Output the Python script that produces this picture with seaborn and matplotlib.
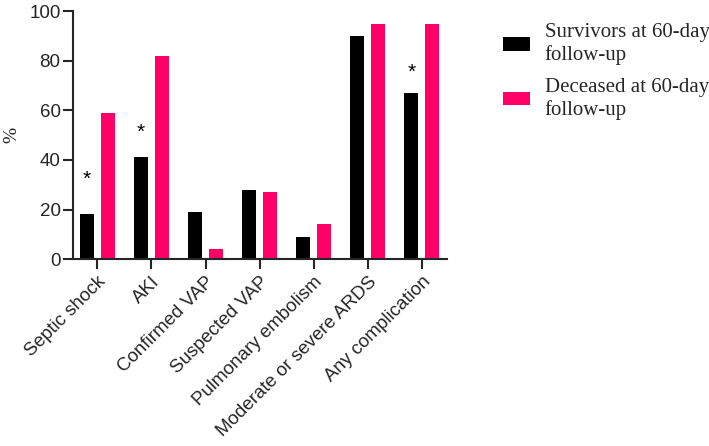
import matplotlib
matplotlib.use("Agg")
import matplotlib.pyplot as plt
import seaborn as sns
import pandas as pd

categories = ["Septic shock", "AKI", "Confirmed VAP", "Suspected VAP",
              "Pulmonary embolism", "Moderate or severe ARDS", "Any complication"]
survivors = [18, 41, 19, 28, 9, 90, 67]
deceased = [59, 82, 4, 27, 14, 95, 95]
series_names = ["Survivors at 60-day\nfollow-up", "Deceased at 60-day\nfollow-up"]
# significance markers (height of asterisk above survivor bars), None = no marker
asterisk_y = [32, 51, None, None, None, None, 75.5]
yticks = [0, 20, 40, 60, 80, 100]

colors = ["#000000", "#FF0066"]

df = pd.DataFrame({
    "category": categories * 2,
    "value": survivors + deceased,
    "group": [series_names[0]] * len(categories) + [series_names[1]] * len(categories),
})

sns.set_style("ticks")
plt.rcParams["font.family"] = ["Liberation Sans", "DejaVu Sans"]

fig = plt.figure(figsize=(7.09, 4.46), dpi=100)
ax = fig.add_axes([0.103, 0.419, 0.527, 0.556])

sns.barplot(data=df, x="category", y="value", hue="group", order=categories,
            hue_order=series_names, palette=colors, width=0.78, gap=0.333,
            saturation=1, edgecolor="none", linewidth=0, ax=ax, legend=True)

ax.set_xlim(-0.45, len(categories) - 1 + 0.46)
ax.set_ylim(0, 100)
ax.set_yticks(yticks)
ax.set_xlabel("")
ax.set_ylabel("%", fontfamily="Liberation Serif", fontsize=14, labelpad=6)
ax.set_xticks(range(len(categories)))
ax.set_xticklabels(categories, rotation=45, ha="right", rotation_mode="anchor", fontsize=13.5)
ax.tick_params(axis="y", labelsize=13.5, length=7, width=1.5, pad=2)
ax.tick_params(axis="x", length=7, width=1.5, pad=3)
sns.despine(ax=ax)
for s in ["left", "bottom"]:
    ax.spines[s].set_linewidth(1.5)

for i, y in enumerate(asterisk_y):
    if y is not None:
        ax.text(i - 0.195, y, "*", ha="center", va="center", fontsize=15, color="black")

handles, labels = ax.get_legend_handles_labels()
ax.get_legend().remove()
fig.legend(handles, labels, loc="upper left", bbox_to_anchor=(0.697, 0.966),
           frameon=False, prop={"family": "Liberation Serif", "size": 15},
           handlelength=1.3, handleheight=0.62, labelspacing=0.6, handletextpad=0.72,
           borderaxespad=0)

fig.savefig("out.png", dpi=100)
